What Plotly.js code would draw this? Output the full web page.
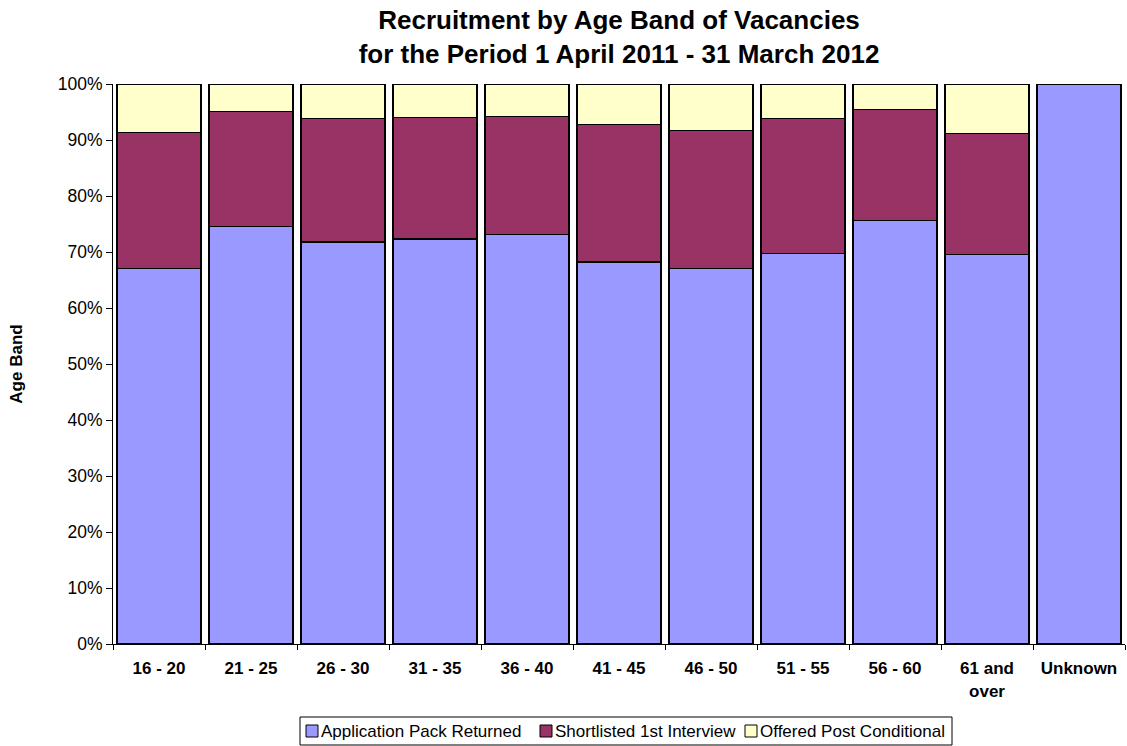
<!DOCTYPE html>
<html>
<head>
<meta charset="utf-8">
<script src="https://cdn.plot.ly/plotly-3.0.1.min.js"></script>
<style>
  html, body { margin: 0; padding: 0; background: #ffffff; }
  #chart { width: 1127px; height: 746px; }
</style>
</head>
<body>
<div id="chart"></div>
<script>
// Age bands (x categories)
const ageBands = ['16 - 20', '21 - 25', '26 - 30', '31 - 35', '36 - 40', '41 - 45',
                  '46 - 50', '51 - 55', '56 - 60', '61 and<br>over', 'Unknown'];

// Percentage share of each recruitment stage within every age band
const applicationPackReturned = [67.1, 74.6, 71.8, 72.3, 73.1, 68.2, 67.1, 69.7, 75.6, 69.5, 100];
const shortlisted1stInterview = [24.2, 20.5, 22.1, 21.7, 21.1, 24.6, 24.6, 24.1, 19.8, 21.7, 0];
const offeredPostConditional  = [8.7, 4.9, 6.1, 6.0, 5.8, 7.2, 8.3, 6.2, 4.6, 8.8, 0];

const seriesNames  = ['Application Pack Returned', 'Shortlisted 1st Interview', 'Offered Post Conditional'];
const seriesValues = [applicationPackReturned, shortlisted1stInterview, offeredPostConditional];
const seriesColors = ['#9999FF', '#993366', '#FFFFCC'];

const FONT = 'Liberation Sans, Arial, Helvetica, sans-serif';

// Figure geometry (pixels)
const W = 1127, H = 746;
const M = { l: 113, r: 2, t: 84, b: 102 };
const plotW = W - M.l - M.r, plotH = H - M.t - M.b;
const px2x = px => (px - M.l) / plotW;
const px2y = py => (H - M.b - py) / plotH;

const traces = seriesNames.map((name, i) => ({
  type: 'bar',
  name: name,
  x: ageBands,
  y: seriesValues[i],
  marker: { color: seriesColors[i], line: { color: '#000000', width: 1.3 } },
  hovertemplate: '%{x}: %{y}%<extra>' + name + '</extra>',
  showlegend: false
}));

// Legend box below the plot: a framed row of swatch + label entries
const legendBox = { x0: 300, x1: 952, y0: 717, y1: 745 };
const swatchLeft = [306, 540, 745];
const swatchSize = 12;
const swatchTop = 725;

const shapes = [{
  type: 'rect', xref: 'paper', yref: 'paper',
  x0: px2x(legendBox.x0), x1: px2x(legendBox.x1),
  y0: px2y(legendBox.y1), y1: px2y(legendBox.y0),
  line: { color: '#000000', width: 1 }, fillcolor: 'rgba(0,0,0,0)'
}];
const annotations = [];
seriesNames.forEach((name, i) => {
  shapes.push({
    type: 'rect', xref: 'paper', yref: 'paper',
    x0: px2x(swatchLeft[i]), x1: px2x(swatchLeft[i] + swatchSize),
    y0: px2y(swatchTop + swatchSize), y1: px2y(swatchTop),
    line: { color: '#000000', width: 1 }, fillcolor: seriesColors[i]
  });
  annotations.push({
    xref: 'paper', yref: 'paper',
    x: px2x(swatchLeft[i] + swatchSize + 2), y: px2y(swatchTop + swatchSize / 2),
    xanchor: 'left', yanchor: 'middle',
    text: name, showarrow: false,
    font: { family: FONT, size: 17, color: '#000000' },
    borderpad: 0
  });
});

const layout = {
  width: W,
  height: H,
  paper_bgcolor: '#ffffff',
  plot_bgcolor: '#ffffff',
  margin: { l: M.l, r: M.r, t: M.t, b: M.b, autoexpand: false },
  barmode: 'stack',
  bargap: 0.09,
  font: { family: FONT, color: '#000000', size: 17 },
  title: {
    text: 'Recruitment by Age Band of Vacancies<br>for the Period 1 April 2011 - 31 March 2012',
    font: { family: FONT, size: 26, weight: 'bold', color: '#000000' },
    x: 0.5, xref: 'paper', xanchor: 'center',
    y: 0.961, yref: 'container', yanchor: 'top'
  },
  xaxis: {
    type: 'category',
    showline: true, linecolor: '#000000', linewidth: 1,
    ticks: 'outside', ticklen: 5, tickcolor: '#000000', tickson: 'boundaries',
    ticklabelstandoff: 9,
    tickfont: { family: FONT, size: 17, weight: 'bold' },
    showgrid: false, zeroline: false
  },
  yaxis: {
    range: [0, 100], dtick: 10, ticksuffix: '%',
    showline: true, linecolor: '#000000', linewidth: 1,
    ticks: 'outside', ticklen: 6, tickcolor: '#000000',
    tickfont: { family: FONT, size: 17.5 },
    showgrid: false, zeroline: false,
    title: { text: 'Age Band', font: { family: FONT, size: 17, weight: 'bold' }, standoff: 30 }
  },
  showlegend: false,
  shapes: shapes,
  annotations: annotations
};

Plotly.newPlot('chart', traces, layout, { displayModeBar: false, staticPlot: true });
</script>
</body>
</html>
